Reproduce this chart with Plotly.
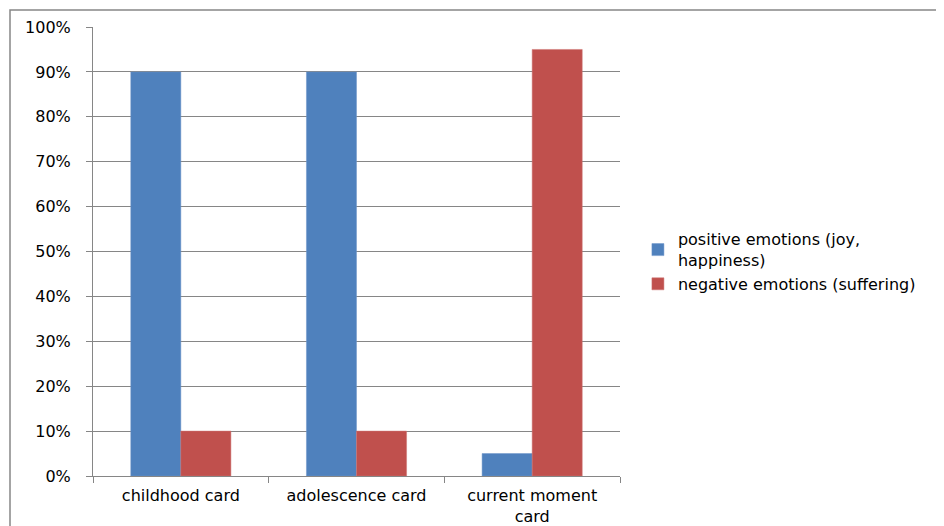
import plotly.graph_objects as go

categories = ["childhood card", "adolescence card", "current moment<br>card"]
positive = [0.90, 0.90, 0.05]
negative = [0.10, 0.10, 0.95]
series_names = ["positive emotions (joy,<br>happiness)", "negative emotions (suffering)"]
tick_vals = [0, 0.1, 0.2, 0.3, 0.4, 0.5, 0.6, 0.7, 0.8, 0.9, 1.0]
tick_text = ["0%", "10%", "20%", "30%", "40%", "50%", "60%", "70%", "80%", "90%", "100%"]

FONT = dict(family="DejaVu Sans", size=16, color="#000000")

fig = go.Figure()
fig.add_trace(go.Bar(x=categories, y=positive, name=series_names[0],
                     marker=dict(color="#4F81BD", line=dict(color="#6E95C8", width=0.5))))
fig.add_trace(go.Bar(x=categories, y=negative, name=series_names[1],
                     marker=dict(color="#C0504D", line=dict(color="#CD7573", width=0.5))))

fig.update_layout(
    width=944, height=526,
    margin=dict(l=85, r=332, t=19, b=58, autoexpand=False),
    paper_bgcolor="white", plot_bgcolor="white",
    font=FONT,
    barmode="group", bargap=0.43, bargroupgap=0,
    showlegend=True,
    legend=dict(x=1.034, y=0.565, xanchor="left", yanchor="top",
                font=FONT,
                itemwidth=30, tracegroupgap=11, bgcolor="rgba(0,0,0,0)"),
    xaxis=dict(showline=True, linecolor="#868686", linewidth=1,
               ticks="outside", tickson="boundaries", ticklen=6, tickcolor="#868686",
               showgrid=False, tickfont=FONT, ticklabelstandoff=5, automargin=False),
    yaxis=dict(range=[0, 1.0], tickvals=tick_vals, ticktext=tick_text,
               showline=True, linecolor="#868686", linewidth=1,
               ticks="outside", ticklen=6, tickcolor="#868686",
               showgrid=True, gridcolor="#868686", gridwidth=1,
               zeroline=False, tickfont=FONT, ticklabelstandoff=12, automargin=False),
    shapes=[dict(type="rect", xref="paper", yref="paper",
                 x0=(10 - 93) / 527, x1=2.0, y0=-0.5, y1=(476 - 10) / 449,
                 line=dict(color="#868686", width=1.5), fillcolor="rgba(0,0,0,0)",
                 layer="below")],
)

fig.write_html("out.html")
